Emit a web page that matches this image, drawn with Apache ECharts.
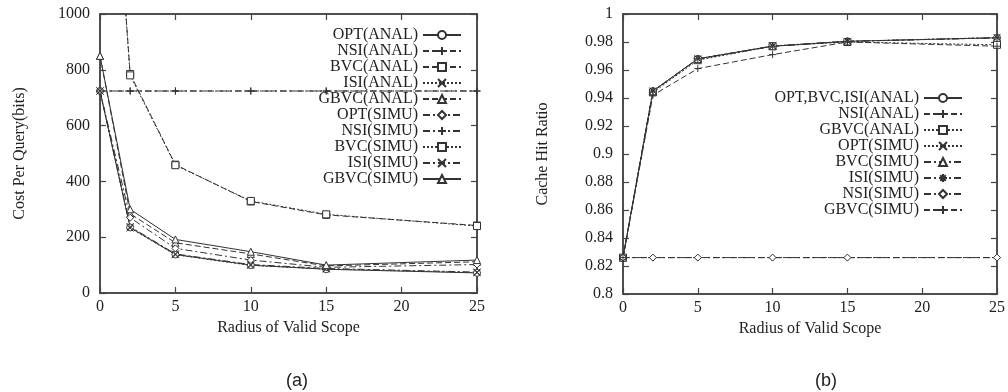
<!DOCTYPE html>
<html>
<head>
<meta charset="utf-8">
<script src="https://cdn.jsdelivr.net/npm/echarts@6/dist/echarts.min.js"></script>
<style>
  html, body { margin: 0; padding: 0; background: #fff; }
  #wrap { position: relative; width: 1008px; height: 392px; }
  .pane { position: absolute; top: 0; width: 504px; height: 392px; }
</style>
</head>
<body>
<div id="wrap">
  <div id="chartA" class="pane" style="left:0"></div>
  <div id="chartB" class="pane" style="left:504px"></div>
</div>
<script>
// radius of valid scope (x values)
const radius = [0, 2, 5, 10, 15, 25];

// (a) cost per query in bits
const optAnalCost  = [724, 235, 138, 100, 85, 72];
const nsiAnalCost  = [724, 724, 724, 724, 724, 724];
const bvcAnalCost  = [2300, 785, 460, 328, 280, 242];
const isiAnalCost  = [724, 233, 137, 99, 86, 73];
const gbvcAnalCost = [850, 284, 180, 140, 97, 112];
const optSimuCost  = [724, 270, 160, 118, 92, 102];
const nsiSimuCost  = [724, 724, 724, 724, 724, 724];
const bvcSimuCost  = [2300, 780, 458, 330, 282, 240];
const isiSimuCost  = [724, 238, 140, 102, 88, 75];
const gbvcSimuCost = [850, 300, 192, 148, 100, 118];

// (b) cache hit ratio
const optBvcIsiAnalHit = [0.826, 0.945, 0.968, 0.977, 0.9805, 0.983];
const nsiAnalHit  = [0.826, 0.826, 0.826, 0.826, 0.826, 0.826];
const gbvcAnalHit = [0.826, 0.944, 0.967, 0.977, 0.980, 0.978];
const optSimuHit  = [0.826, 0.945, 0.968, 0.9772, 0.9805, 0.9832];
const bvcSimuHit  = [0.826, 0.9448, 0.9678, 0.977, 0.9804, 0.983];
const isiSimuHit  = [0.826, 0.945, 0.968, 0.977, 0.9805, 0.983];
const nsiSimuHit  = [0.826, 0.826, 0.826, 0.826, 0.826, 0.826];
const gbvcSimuHit = [0.826, 0.942, 0.961, 0.971, 0.980, 0.977];

// gnuplot-like point types
const PLUS  = 'path://M0,5L10,5M5,0L5,10';
const CROSS = 'path://M0,0L10,10M10,0L0,10';
const STAR  = 'path://M0,5L10,5M5,0L5,10M1.5,1.5L8.5,8.5M8.5,1.5L1.5,8.5';

// dash patterns
const SOLID = 'solid';
const DASH = [6, 3];
const DOT = [2, 2];
const DASHDOT = [7, 3, 2, 3];

const serif = 'Liberation Serif';
const ink = '#333';

function pairs(ys) {
  return radius.map((x, i) => [x, ys[i]]);
}

function mkSeries(name, ys, symbol, dash) {
  return {
    name: name,
    type: 'line',
    data: pairs(ys),
    symbol: symbol,
    symbolSize: 7,
    color: ink,
    itemStyle: { color: '#fff', borderColor: ink, borderWidth: 1 },
    lineStyle: { color: ink, width: 1, type: dash },
    emphasis: { disabled: true },
    animation: false,
    clip: true
  };
}

// empty series so the mirror axes (top / right) get drawn
const mirrorSeries = {
  type: 'line', name: 'mirror', xAxisIndex: 1, yAxisIndex: 1, data: [],
  silent: true, animation: false
};

function plain(v) {
  return String(+v.toFixed(4));
}

function axesFor(ymin, ymax, yint, yname) {
  const lab = { fontFamily: serif, fontSize: 16, color: '#222', formatter: plain };
  const line = { show: true, onZero: false, lineStyle: { color: '#444', width: 1.5 } };
  const tick = { show: true, inside: true, length: 6, lineStyle: { color: '#444', width: 1.2 } };
  return {
    xAxis: [
      {
        type: 'value', min: 0, max: 25, interval: 5, position: 'bottom',
        name: 'Radius of Valid Scope', nameLocation: 'middle', nameGap: 22,
        nameTextStyle: { fontFamily: serif, fontSize: 16, color: '#222' },
        axisLine: line, axisTick: tick, axisLabel: Object.assign({ margin: 6 }, lab),
        splitLine: { show: false }
      },
      {
        type: 'value', show: true, min: 0, max: 25, interval: 5, position: 'top',
        axisLine: line, axisTick: tick, axisLabel: { show: false },
        splitLine: { show: false }
      }
    ],
    yAxis: [
      {
        type: 'value', min: ymin, max: ymax, interval: yint, position: 'left',
        name: yname, nameLocation: 'middle', nameGap: 72,
        nameTextStyle: { fontFamily: serif, fontSize: 16, color: '#222' },
        axisLine: line, axisTick: tick, axisLabel: Object.assign({ margin: 10 }, lab),
        splitLine: { show: false }
      },
      {
        type: 'value', show: true, min: ymin, max: ymax, interval: yint, position: 'right',
        axisLine: line, axisTick: tick, axisLabel: { show: false },
        splitLine: { show: false }
      }
    ]
  };
}

function legendAt(names, right, top) {
  return {
    data: names,
    orient: 'vertical',
    right: right,
    top: top,
    align: 'right',
    padding: 0,
    itemGap: 0,
    itemWidth: 38,
    itemHeight: 10,
    selectedMode: false,
    textStyle: { fontFamily: serif, fontSize: 16, color: '#222', lineHeight: 15 }
  };
}

function frameGrid(left, top, width, height) {
  return {
    left: left, top: top, width: width, height: height,
    show: true, borderColor: '#444', borderWidth: 1.5, backgroundColor: 'transparent'
  };
}

// ---- (a) ----
const chartA = echarts.init(document.getElementById('chartA'), null, { renderer: 'canvas' });
const axA = axesFor(0, 1000, 200, 'Cost Per Query(bits)');
const seriesA = [
  mkSeries('OPT(ANAL)', optAnalCost, 'circle', SOLID),
  mkSeries('NSI(ANAL)', nsiAnalCost, PLUS, DASH),
  mkSeries('BVC(ANAL)', bvcAnalCost, 'rect', DASH),
  mkSeries('ISI(ANAL)', isiAnalCost, CROSS, DOT),
  mkSeries('GBVC(ANAL)', gbvcAnalCost, 'triangle', DASH),
  mkSeries('OPT(SIMU)', optSimuCost, 'diamond', DASHDOT),
  mkSeries('NSI(SIMU)', nsiSimuCost, PLUS, DASHDOT),
  mkSeries('BVC(SIMU)', bvcSimuCost, 'rect', DOT),
  mkSeries('ISI(SIMU)', isiSimuCost, CROSS, DASHDOT),
  mkSeries('GBVC(SIMU)', gbvcSimuCost, 'triangle', SOLID)
];
chartA.setOption({
  backgroundColor: '#fff',
  animation: false,
  title: {
    text: '(a)', left: 281, top: 367,
    textStyle: { fontFamily: 'Liberation Sans', fontSize: 18, fontWeight: 'normal', color: '#222' }
  },
  grid: frameGrid(100, 14, 377, 279),
  xAxis: axA.xAxis,
  yAxis: axA.yAxis,
  legend: legendAt(seriesA.map(s => s.name), 42, 27),
  series: seriesA.concat([mirrorSeries])
});

// ---- (b) ----
const chartB = echarts.init(document.getElementById('chartB'), null, { renderer: 'canvas' });
const axB = axesFor(0.8, 1, 0.02, 'Cache Hit Ratio');
const seriesB = [
  mkSeries('OPT,BVC,ISI(ANAL)', optBvcIsiAnalHit, 'circle', SOLID),
  mkSeries('NSI(ANAL)', nsiAnalHit, PLUS, DASH),
  mkSeries('GBVC(ANAL)', gbvcAnalHit, 'rect', DOT),
  mkSeries('OPT(SIMU)', optSimuHit, CROSS, DOT),
  mkSeries('BVC(SIMU)', bvcSimuHit, 'triangle', DASHDOT),
  mkSeries('ISI(SIMU)', isiSimuHit, STAR, DASHDOT),
  mkSeries('NSI(SIMU)', nsiSimuHit, 'diamond', DASHDOT),
  mkSeries('GBVC(SIMU)', gbvcSimuHit, PLUS, DASH)
];
chartB.setOption({
  backgroundColor: '#fff',
  animation: false,
  title: {
    text: '(b)', left: 306, top: 367,
    textStyle: { fontFamily: 'Liberation Sans', fontSize: 18, fontWeight: 'normal', color: '#222' }
  },
  grid: frameGrid(119, 14, 377, 280),
  xAxis: axB.xAxis,
  yAxis: axB.yAxis,
  legend: legendAt(seriesB.map(s => s.name), 45, 90),
  series: seriesB.concat([mirrorSeries])
});
</script>
</body>
</html>
